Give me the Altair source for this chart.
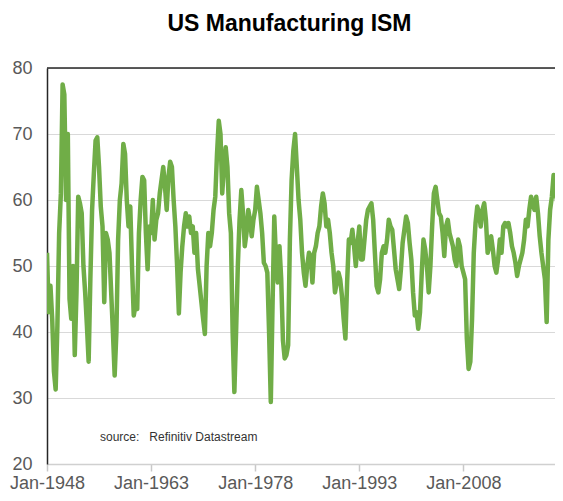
import altair as alt
import pandas as pd

TITLE = "US Manufacturing ISM"
SOURCE = "source:\u00a0\u00a0\u00a0Refinitiv Datastream"
TICK_YEARS = [1948, 1963, 1978, 1993, 2008]
Y_TICKS = [20, 30, 40, 50, 60, 70, 80]

# quarterly readings (Jan, Apr, Jul, Oct)
ism = {
    1948: [52, 43, 47, 42],
    1949: [34, 31.3, 41, 55],
    1950: [61, 77.5, 76, 60],
    1951: [70, 45, 42, 50],
    1952: [36.5, 46, 60.5, 59.5],
    1953: [58, 50, 46, 41],
    1954: [35.5, 48, 58.5, 64],
    1955: [69, 69.5, 65, 59],
    1956: [56, 44.5, 55, 54],
    1957: [52, 46, 40, 33.4],
    1958: [40, 54, 60, 62.5],
    1959: [68.5, 67, 60, 56],
    1960: [59, 50, 42.5, 44],
    1961: [43.5, 55, 60, 63.5],
    1962: [63, 55, 49.5, 56],
    1963: [55, 60, 54, 57],
    1964: [58, 61, 63, 65],
    1965: [62, 58.5, 63.5, 65.8],
    1966: [65, 60, 56, 50],
    1967: [42.8, 49, 53, 56],
    1968: [58, 56, 57.5, 55],
    1969: [56, 52, 55, 49.5],
    1970: [47, 44.5, 42, 39.7],
    1971: [50, 55, 53, 55],
    1972: [58.5, 60.5, 67, 72],
    1973: [70, 61, 65, 68],
    1974: [65, 58, 55, 40],
    1975: [30.9, 40, 50, 57],
    1976: [61.5, 58, 53, 55],
    1977: [58.5, 57, 54.5, 57],
    1978: [58.5, 62, 60, 58],
    1979: [55, 50.5, 50, 49],
    1980: [40, 29.4, 44, 57.5],
    1981: [51, 47.5, 53, 48],
    1982: [38.7, 36, 36.5, 38],
    1983: [54, 63, 67.5, 70],
    1984: [65, 60, 57, 52],
    1985: [49, 47, 50, 52],
    1986: [51.5, 47.5, 52, 53],
    1987: [55, 56, 59, 61],
    1988: [59.5, 56, 57, 55],
    1989: [52, 50, 46, 47.5],
    1990: [49, 48, 45.5, 42],
    1991: [39, 47.5, 54, 53.5],
    1992: [55.5, 53, 50, 53.5],
    1993: [56, 51, 51, 54],
    1994: [57, 58.5, 59, 59.5],
    1995: [57, 52, 47, 46],
    1996: [48, 52, 53, 52],
    1997: [54, 57, 56, 55.5],
    1998: [52.5, 49.5, 48, 46.5],
    1999: [49.5, 53.5, 55.5, 57.5],
    2000: [56.5, 53.5, 51, 46],
    2001: [42.5, 43, 40.5, 43],
    2002: [49, 54, 52.5, 50],
    2003: [46, 50, 56, 61],
    2004: [62, 60, 58, 57.5],
    2005: [55, 51.5, 56, 57],
    2006: [55, 54, 53, 51],
    2007: [50, 54, 53, 50],
    2008: [49, 48, 39, 34.4],
    2009: [35.5, 42, 52, 56.5],
    2010: [59, 58, 56, 58.5],
    2011: [59.5, 57, 52, 53],
    2012: [54.5, 52.5, 50, 49],
    2013: [51, 54, 52, 56],
    2014: [56.5, 56, 56.5, 55],
    2015: [53, 52, 50.5, 48.5],
    2016: [50, 51, 52, 54],
    2017: [57, 56, 58.5, 60.5],
    2018: [59.5, 58.5, 60.5, 58],
    2019: [54.5, 52, 50, 48],
    2020: [41.5, 54, 58.5, 60.5],
    2021: [63.8, 61, 60, 57],
    2022: [54],
}

months = [1, 4, 7, 10]
rows = []
for yr, vals in ism.items():
    for m, v in zip(months, vals):
        rows.append({"date": f"{yr}-{m:02d}-01T00:00:00", "v": v})
df = pd.DataFrame(rows)

FONT = "Liberation Sans"

x_enc = alt.X(
    "date:T",
    scale=alt.Scale(domain=[alt.DateTime(year=1948, month=1, date=1),
                            alt.DateTime(year=2021, month=3, date=15)]),
    axis=alt.Axis(
        values=[alt.DateTime(year=y, month=1, date=1) for y in TICK_YEARS],
        labelExpr="'Jan-' + timeFormat(datum.value, '%Y')",
        grid=False, title=None,
        domainColor="#d0d0d0", domainWidth=1.5,
        tickColor="#c8c8c8", tickSize=7, tickWidth=1.5,
        labelFont=FONT, labelFontSize=18, labelColor="#595959",
        labelPadding=3, labelFlush=False, labelBound=False, labelOverlap=False,
    ),
)
y_enc = alt.Y(
    "v:Q",
    scale=alt.Scale(domain=[20, 80], nice=False, zero=False),
    axis=alt.Axis(
        values=Y_TICKS, grid=True, gridColor="#d9d9d9", gridWidth=1.2,
        ticks=False, title=None,
        domainColor="#262626", domainWidth=1.5,
        labelFont=FONT, labelFontSize=18, labelColor="#595959", labelPadding=15,
    ),
)

line = alt.Chart(df).mark_line(color="#70AD47", strokeWidth=4.5, clip=True,
                               strokeJoin="round").encode(x=x_enc, y=y_enc)

top = alt.Chart(pd.DataFrame({"v": [80]})).mark_rule(color="#262626", strokeWidth=1.5).encode(
    y=alt.Y("v:Q", scale=alt.Scale(domain=[20, 80], nice=False, zero=False))
)

title = alt.Chart(pd.DataFrame({"t": [TITLE]})).mark_text(
    font=FONT, fontSize=23, fontWeight="bold", color="#000000",
    align="center", baseline="alphabetic"
).encode(text="t:N", x=alt.value(242.5), y=alt.value(-37))

source = alt.Chart(pd.DataFrame({"t": [SOURCE]})).mark_text(
    font=FONT, fontSize=12, color="#333333", align="left", baseline="middle"
).encode(text="t:N", x=alt.value(53), y=alt.value(369))

chart = alt.layer(line, top, title, source).properties(
    width=508, height=396,
    autosize=alt.AutoSizeParams(type="none"),
    padding={"left": 39, "top": 60, "right": 0, "bottom": 29},
).configure_view(stroke=None)

chart.save("out.html", embed_options={"renderer": "svg", "actions": False})
